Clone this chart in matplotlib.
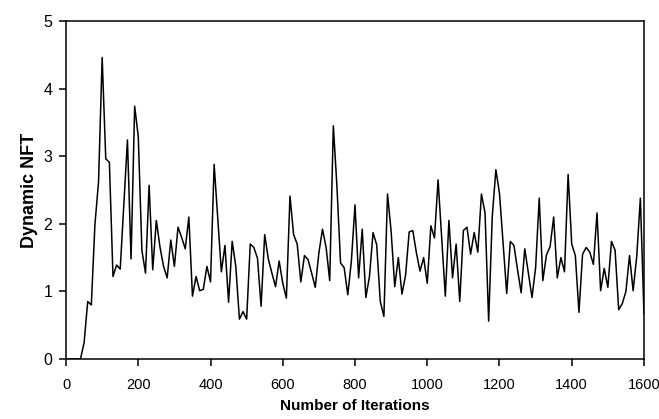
import numpy as np
import matplotlib
matplotlib.use("Agg")
import matplotlib.pyplot as plt

plt.rcParams['font.family'] = ['Liberation Sans', 'DejaVu Sans']

# one sample every 10 iterations
iterations = np.arange(0, 1610, 10)
dynamic_nft = [
    0.00, 0.00, 0.00, 0.00, 0.00, 0.24, 0.85, 0.80, 1.99, 2.62,
    4.46, 2.96, 2.91, 1.22, 1.39, 1.33, 2.29, 3.24, 1.48, 3.74,
    3.29, 1.61, 1.27, 2.57, 1.32, 2.05, 1.66, 1.37, 1.20, 1.76,
    1.37, 1.95, 1.80, 1.63, 2.10, 0.93, 1.22, 1.01, 1.03, 1.37,
    1.14, 2.88, 2.08, 1.29, 1.68, 0.84, 1.74, 1.37, 0.59, 0.70,
    0.59, 1.70, 1.65, 1.49, 0.78, 1.84, 1.48, 1.27, 1.07, 1.45,
    1.12, 0.90, 2.41, 1.84, 1.70, 1.14, 1.53, 1.47, 1.27, 1.06,
    1.57, 1.92, 1.65, 1.16, 3.45, 2.55, 1.42, 1.35, 0.95, 1.45,
    2.28, 1.20, 1.92, 0.91, 1.22, 1.87, 1.69, 0.85, 0.63, 2.44,
    1.89, 1.07, 1.50, 0.96, 1.24, 1.88, 1.90, 1.57, 1.30, 1.50,
    1.12, 1.97, 1.79, 2.65, 1.80, 0.93, 2.05, 1.20, 1.70, 0.85,
    1.90, 1.95, 1.55, 1.87, 1.58, 2.44, 2.16, 0.56, 2.11, 2.80,
    2.45, 1.71, 0.97, 1.74, 1.68, 1.32, 0.98, 1.63, 1.27, 0.91,
    1.35, 2.38, 1.16, 1.54, 1.66, 2.10, 1.20, 1.50, 1.29, 2.73,
    1.70, 1.53, 0.69, 1.55, 1.65, 1.58, 1.40, 2.16, 1.01, 1.34,
    1.06, 1.74, 1.61, 0.73, 0.82, 1.00, 1.53, 1.01, 1.52, 2.38,
    0.66,
]
x_ticks = [0, 200, 400, 600, 800, 1000, 1200, 1400, 1600]
y_ticks = [0, 1, 2, 3, 4, 5]

fig = plt.figure(figsize=(6.59, 4.19), dpi=100)
ax = fig.add_axes([0.1002, 0.1432, 0.8770, 0.8067])

ax.plot(iterations, dynamic_nft, color='black', linewidth=1.1)

ax.set_xlim(0, 1600)
ax.set_ylim(0, 5)
ax.set_xticks(x_ticks)
ax.set_yticks(y_ticks)
ax.tick_params(axis='both', direction='out', length=5, width=1.1, colors='black')
ax.tick_params(axis='x', labelsize=10.5, pad=8.5)
ax.tick_params(axis='y', labelsize=11.5, pad=5)
for s in ax.spines.values():
    s.set_linewidth(1.1)
    s.set_color('black')

ax.set_xlabel('Number of Iterations', fontsize=11, fontweight='bold', labelpad=5)
ax.set_ylabel('Dynamic NFT', fontsize=13, fontweight='bold', labelpad=3.5)

fig.savefig('out.png', dpi=100)
